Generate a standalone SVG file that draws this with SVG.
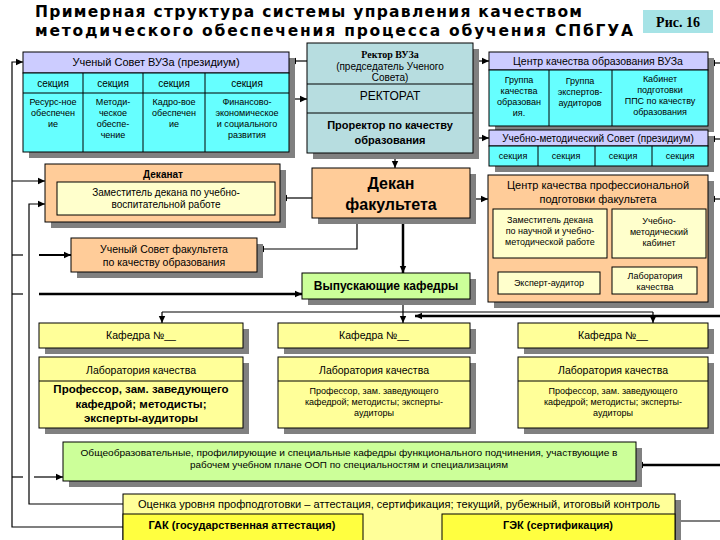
<svg xmlns="http://www.w3.org/2000/svg" width="720" height="540" viewBox="0 0 720 540">
<defs>
<style>
.bx{stroke:#000;stroke-width:1}
.sh{fill:#808080;stroke:none}
.lav{fill:#ccccff}
.cy{fill:#66ffff}
.rk{fill:#b7dde0}
.or{fill:#ffcc99}
.py{fill:#ffffcc}
.ye{fill:#ffff99}
.gr{fill:#ccff99}
.by{fill:#ffff40}
.ln{stroke:#000;stroke-width:1;fill:none}
.t{font-family:"Liberation Sans",Arial,sans-serif;font-size:10px;fill:#000;text-anchor:middle}
.s9{font-size:9px}
.s11{font-size:11px}
.b{font-weight:bold}
.ttl{font-family:"DejaVu Sans",Verdana,sans-serif;font-size:15.5px;font-weight:bold}
.c{stroke:#000;stroke-width:1.2;fill:none}
.th{stroke-width:2.5}
.ar{marker-end:url(#ah)}
</style>
<marker id="ah" markerWidth="8" markerHeight="8" refX="7" refY="4" orient="auto" markerUnits="userSpaceOnUse"><path d="M0,0.8 L7,4 L0,7.2 z" fill="#000"/></marker>
</defs>
<rect width="720" height="540" fill="#fff"/>

<g id="title">
<text class="ttl" x="35" y="17" textLength="547" lengthAdjust="spacing">Примерная структура системы управления качеством</text>
<text class="ttl" x="35" y="36" textLength="598" lengthAdjust="spacing">методического обеспечения процесса обучения СПбГУА</text>
</g>
<g id="fig">
<rect x="643" y="10" width="70" height="23" fill="#a6e3e6"/>
<text x="678" y="27" style="font-family:'Liberation Serif','Times New Roman',serif;font-size:14px;font-weight:bold;text-anchor:middle">Рис. 16</text>
</g>

<g id="connectors">
<path class="c ar" d="M123,527 H12 V62 H23"/>
<path class="c ar" d="M12,181 H45"/>
<path class="c ar" d="M123,504 H29 V204 H45"/>
<path class="c" d="M12,255 H23"/>
<path class="c ar" d="M39,255 H71" style="stroke-width:2"/>
<path class="c" d="M12,294 H23"/>
<path class="c th ar" d="M39,294 H302"/>
<path class="c" d="M12,477 H23"/>
<path class="c ar" d="M34,477 H63"/>
<path class="c ar" d="M307,61 H289"/>
<path class="c ar" d="M289,99 H307"/>
<path class="c ar" d="M473,61 H489"/>
<path class="c ar" d="M473,138 H489"/>
<path class="c ar" d="M720,63 H708"/>
<path class="c ar" d="M720,139 H708"/>
<path class="c ar" d="M720,199 H708"/>
<path class="c ar" d="M395,153 V168"/>
<path class="c ar" d="M312,198 H280"/>
<path class="c ar" d="M470,199 H488"/>
<path class="c ar" d="M357,218 V249 H257"/>
<path class="c th ar" d="M403,218 V273"/>
<path class="c ar" d="M403,299 V323"/>
<path class="c" d="M162,312 H653"/>
<path class="c ar" d="M162,312 V323"/>
<path class="c ar" d="M653,312 V323"/>
<path class="c th ar" d="M720,316 H415"/>
<path class="c th ar" d="M720,465 H636"/>
<path class="c" d="M720,521 H675"/>
<path class="c ar" d="M550,258 V272"/>
<path class="c ar" d="M663,258 V267"/>
</g>

<g id="uchsovet-vuz">
<rect class="sh" x="29" y="58" width="266" height="100"/>
<rect class="bx lav" x="23" y="52" width="266" height="21"/>
<rect class="bx cy" x="23" y="73" width="266" height="79"/>
<path class="ln" d="M23,93 H289 M83,73 V152 M143,73 V152 M205,73 V152"/>
<text class="t s11" x="156" y="66">Ученый Совет ВУЗа (президиум)</text>
<text class="t" x="53" y="87">секция</text>
<text class="t" x="113" y="87">секция</text>
<text class="t" x="174" y="87">секция</text>
<text class="t" x="247" y="87">секция</text>
<text class="t s9" x="53" y="105">Ресурс-ное</text>
<text class="t s9" x="53" y="116">обеспечен</text>
<text class="t s9" x="53" y="127">ие</text>
<text class="t s9" x="113" y="105">Методи-</text>
<text class="t s9" x="113" y="116">ческое</text>
<text class="t s9" x="113" y="127">обеспе-</text>
<text class="t s9" x="113" y="138">чение</text>
<text class="t s9" x="174" y="105">Кадро-вое</text>
<text class="t s9" x="174" y="116">обеспечен</text>
<text class="t s9" x="174" y="127">ие</text>
<text class="t s9" x="247" y="105">Финансово-</text>
<text class="t s9" x="247" y="116">экономическое</text>
<text class="t s9" x="247" y="127">и социального</text>
<text class="t s9" x="247" y="138">развития</text>
</g>

<g id="rector">
<rect class="sh" x="313" y="49" width="166" height="110"/>
<rect class="bx rk" x="307" y="43" width="166" height="110"/>
<path class="ln" d="M307,84 H473 M307,113 H473"/>
<text class="t b" x="390" y="58" style="font-family:'Liberation Serif','Times New Roman',serif">Ректор ВУЗа</text>
<text class="t" x="390" y="70">(председатель Ученого</text>
<text class="t" x="390" y="81">Совета)</text>
<text class="t" x="390" y="100" style="font-size:12px">РЕКТОРАТ</text>
<text class="t b s11" x="390" y="129">Проректор по качеству</text>
<text class="t b s11" x="390" y="144">образования</text>
</g>

<g id="centr-vuz">
<rect class="sh" x="495" y="58" width="219" height="74"/>
<rect class="bx lav" x="489" y="52" width="219" height="18"/>
<rect class="bx cy" x="489" y="70" width="219" height="56"/>
<path class="ln" d="M549,70 V126 M612,70 V126"/>
<text class="t" x="598" y="65" style="font-size:10.5px">Центр качества образования ВУЗа</text>
<text class="t s9" x="519" y="83">Группа</text>
<text class="t s9" x="519" y="94">качества</text>
<text class="t s9" x="519" y="105">образован</text>
<text class="t s9" x="519" y="116">ия.</text>
<text class="t s9" x="580" y="84">Группа</text>
<text class="t s9" x="580" y="95">экспертов-</text>
<text class="t s9" x="580" y="106">аудиторов</text>
<text class="t s9" x="660" y="82">Кабинет</text>
<text class="t s9" x="660" y="93">подготовки</text>
<text class="t s9" x="660" y="104">ППС по качеству</text>
<text class="t s9" x="660" y="115">образования</text>
</g>

<g id="umsovet">
<rect class="sh" x="495" y="136" width="219" height="36"/>
<rect class="bx lav" x="489" y="130" width="219" height="16"/>
<rect class="bx cy" x="489" y="146" width="219" height="20"/>
<path class="ln" d="M538,146 V166 M595,146 V166 M652,146 V166"/>
<text class="t" x="598" y="142">Учебно-методический Совет (президиум)</text>
<text class="t s9" x="513" y="159">секция</text>
<text class="t s9" x="566" y="159">секция</text>
<text class="t s9" x="623" y="159">секция</text>
<text class="t s9" x="680" y="159">секция</text>
</g>

<g id="dekanat">
<rect class="sh" x="51" y="170" width="235" height="58"/>
<rect class="bx or" x="45" y="164" width="235" height="58"/>
<rect class="bx py" x="57" y="182" width="218" height="33"/>
<text class="t b" x="163" y="178">Деканат</text>
<text class="t" x="166" y="196">Заместитель декана по учебно-</text>
<text class="t" x="166" y="208">воспитательной работе</text>
</g>

<g id="dekan">
<rect class="sh" x="318" y="174" width="158" height="50"/>
<rect class="bx or" x="312" y="168" width="158" height="50"/>
<text class="t b" x="391" y="189" style="font-size:16px">Декан</text>
<text class="t b" x="391" y="210" style="font-size:16px">факультета</text>
</g>

<g id="centr-fak">
<rect class="sh" x="494" y="181" width="220" height="127"/>
<rect class="bx or" x="488" y="175" width="220" height="127"/>
<text class="t s11" x="598" y="189">Центр качества профессиональной</text>
<text class="t s11" x="598" y="203">подготовки факультета</text>
<rect class="bx py" x="493" y="209" width="114" height="49"/>
<text class="t s9" x="550" y="223">Заместитель декана</text>
<text class="t s9" x="550" y="234">по научной и учебно-</text>
<text class="t s9" x="550" y="245">методической работе</text>
<rect class="bx py" x="612" y="209" width="94" height="49"/>
<text class="t s9" x="659" y="224">Учебно-</text>
<text class="t s9" x="659" y="235">методический</text>
<text class="t s9" x="659" y="246">кабинет</text>
<rect class="bx py" x="498" y="272" width="102" height="22"/>
<text class="t s9" x="549" y="286">Эксперт-аудитор</text>
<rect class="bx py" x="612" y="267" width="85" height="27"/>
<text class="t s9" x="655" y="279">Лаборатория</text>
<text class="t s9" x="655" y="290">качества</text>
</g>

<g id="uchsovet-fak">
<rect class="sh" x="77" y="244" width="186" height="34"/>
<rect class="bx or" x="71" y="238" width="186" height="34"/>
<text class="t" x="164" y="253" style="font-size:10.5px">Ученый Совет факультета</text>
<text class="t" x="164" y="266" style="font-size:10.5px">по качеству образования</text>
</g>

<g id="vypusk">
<rect class="sh" x="308" y="279" width="168" height="26"/>
<rect class="bx gr" x="302" y="273" width="168" height="26"/>
<text class="t b" x="386" y="290" style="font-size:12px">Выпускающие кафедры</text>
</g>

<g id="kafedra-1">
<rect class="sh" x="45" y="329" width="204" height="25"/>
<rect class="bx ye" x="39" y="323" width="204" height="25"/>
<text class="t" x="141" y="339" style="font-size:10.5px">Кафедра №__</text>
<rect class="sh" x="45" y="363" width="204" height="71"/>
<rect class="bx ye" x="39" y="357" width="204" height="71"/>
<path class="ln" d="M39,381 H243"/>
<text class="t" x="141" y="374" style="font-size:10.5px">Лаборатория качества</text>
<text class="t b" x="141" y="393" style="font-size:11.5px">Профессор, зам. заведующего</text>
<text class="t b" x="141" y="408" style="font-size:11.5px">кафедрой; методисты;</text>
<text class="t b" x="141" y="422" style="font-size:11.5px">эксперты-аудиторы</text>
</g>

<g id="kafedra-2">
<rect class="sh" x="284" y="329" width="192" height="25"/>
<rect class="bx ye" x="278" y="323" width="192" height="25"/>
<text class="t" x="374" y="339" style="font-size:10.5px">Кафедра №__</text>
<rect class="sh" x="284" y="363" width="192" height="71"/>
<rect class="bx ye" x="278" y="357" width="192" height="71"/>
<path class="ln" d="M278,381 H470"/>
<text class="t" x="374" y="374" style="font-size:10.5px">Лаборатория качества</text>
<text class="t s9" x="374" y="394">Профессор, зам. заведующего</text>
<text class="t s9" x="374" y="405">кафедрой; методисты; эксперты-</text>
<text class="t s9" x="374" y="416">аудиторы</text>
</g>

<g id="kafedra-3">
<rect class="sh" x="524" y="329" width="190" height="25"/>
<rect class="bx ye" x="518" y="323" width="190" height="25"/>
<text class="t" x="613" y="339" style="font-size:10.5px">Кафедра №__</text>
<rect class="sh" x="524" y="363" width="190" height="71"/>
<rect class="bx ye" x="518" y="357" width="190" height="71"/>
<path class="ln" d="M518,381 H708"/>
<text class="t" x="613" y="374" style="font-size:10.5px">Лаборатория качества</text>
<text class="t s9" x="613" y="394">Профессор, зам. заведующего</text>
<text class="t s9" x="613" y="405">кафедрой; методисты; эксперты-</text>
<text class="t s9" x="613" y="416">аудиторы</text>
</g>

<g id="obshcheobr">
<rect class="sh" x="69" y="448" width="573" height="39"/>
<rect class="bx gr" x="63" y="442" width="573" height="39"/>
<text class="t s9" x="349" y="456" textLength="537" lengthAdjust="spacingAndGlyphs">Общеобразовательные, профилирующие и специальные кафедры функционального подчинения, участвующие в</text>
<text class="t s9" x="349" y="468" textLength="318" lengthAdjust="spacingAndGlyphs">рабочем учебном плане ООП по специальностям и специализациям</text>
</g>

<g id="ocenka">
<rect class="sh" x="129" y="500" width="552" height="46"/>
<rect class="bx ye" x="123" y="494" width="552" height="52"/>
<text class="t" x="399" y="508" textLength="522" lengthAdjust="spacingAndGlyphs" style="font-size:10.5px">Оценка уровня профподготовки – аттестация, сертификация; текущий, рубежный, итоговый контроль</text>
</g>
<g id="gak">
<rect class="bx by" x="123" y="514" width="240" height="32"/>
<text class="t b s11" x="242" y="529">ГАК (государственная аттестация)</text>
</g>
<g id="gek">
<rect class="bx by" x="442" y="514" width="233" height="32"/>
<text class="t b s11" x="558" y="529">ГЭК (сертификация)</text>
</g>
</svg>
